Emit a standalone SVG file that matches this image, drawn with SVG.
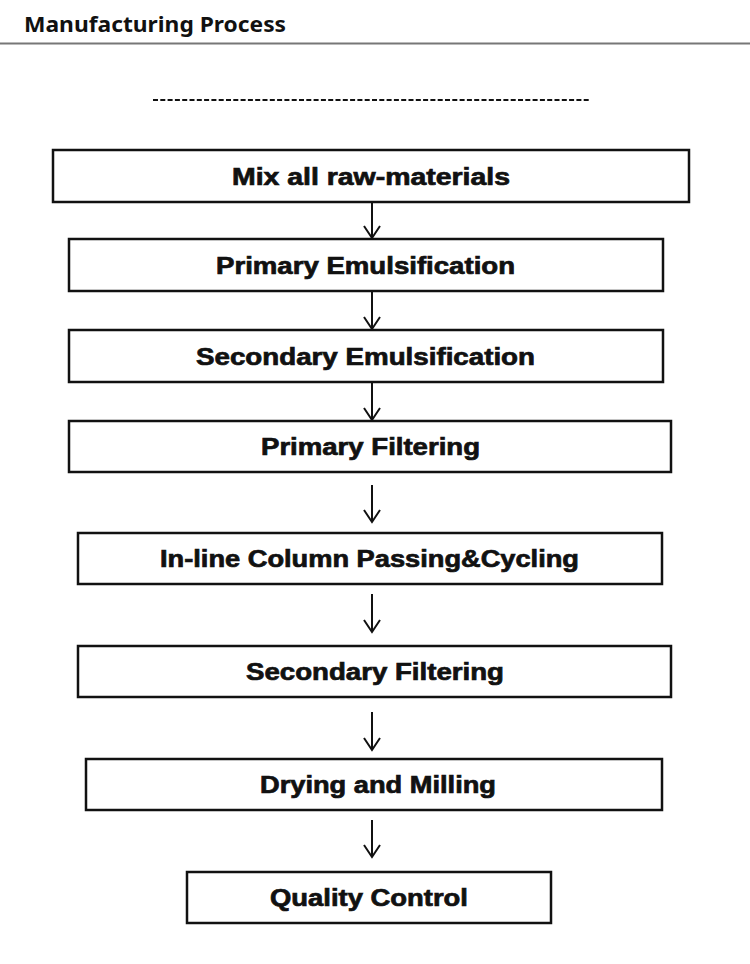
<svg xmlns="http://www.w3.org/2000/svg" width="750" height="964" viewBox="0 0 750 964">
  <style>
    .box { fill: #ffffff; stroke: #111111; stroke-width: 2.5; }
    .lbl { font-family: "Liberation Sans", Arial, sans-serif; font-weight: bold; font-size: 23px; fill: #111111; stroke: #111111; stroke-width: 0.7; text-anchor: middle; }
    .conn { stroke: #111111; stroke-width: 2; fill: none; marker-end: url(#arr); }
    .title { font-family: "Noto Sans", "Open Sans", sans-serif; font-weight: 700; font-size: 22px; fill: #111111; }
  </style>
  <defs>
    <marker id="arr" markerUnits="userSpaceOnUse" markerWidth="20" markerHeight="20" refX="0" refY="0" viewBox="-14 -10 16 20" orient="auto">
      <path d="M -12,-8 L 0,0 L -12,8" fill="none" stroke="#111111" stroke-width="2"/>
    </marker>
  </defs>
  <rect x="0" y="0" width="750" height="964" fill="#ffffff"/>
  <g id="header">
    <text class="title" x="24" y="32" textLength="262" lengthAdjust="spacingAndGlyphs">Manufacturing Process</text>
    <line x1="0" y1="43.5" x2="750" y2="43.5" stroke="#777777" stroke-width="2"/>
    <line x1="153" y1="100" x2="591" y2="100" stroke="#111111" stroke-width="2" stroke-dasharray="5 2.3"/>
  </g>
  <g id="connectors">
    <path class="conn" d="M372,202 L372,238"/>
    <path class="conn" d="M372,291 L372,329"/>
    <path class="conn" d="M372,382 L372,420"/>
    <path class="conn" d="M372,485 L372,522"/>
    <path class="conn" d="M372,594 L372,632"/>
    <path class="conn" d="M372,712 L372,750"/>
    <path class="conn" d="M372,820 L372,857"/>
  </g>
  <g id="n1">
    <rect class="box" x="53" y="150" width="636" height="52"/>
    <text class="lbl" x="371" y="184.5" textLength="278" lengthAdjust="spacingAndGlyphs">Mix all raw-materials</text>
  </g>
  <g id="n2">
    <rect class="box" x="69" y="239" width="594" height="52"/>
    <text class="lbl" x="365.5" y="273.5" textLength="299" lengthAdjust="spacingAndGlyphs">Primary Emulsification</text>
  </g>
  <g id="n3">
    <rect class="box" x="69" y="330" width="594" height="52"/>
    <text class="lbl" x="365.5" y="364.5" textLength="339" lengthAdjust="spacingAndGlyphs">Secondary Emulsification</text>
  </g>
  <g id="n4">
    <rect class="box" x="69" y="421" width="602" height="51"/>
    <text class="lbl" x="370.5" y="455" textLength="219" lengthAdjust="spacingAndGlyphs">Primary Filtering</text>
  </g>
  <g id="n5">
    <rect class="box" x="78" y="533" width="584" height="51"/>
    <text class="lbl" x="369.5" y="567" textLength="419" lengthAdjust="spacingAndGlyphs">In-line Column Passing&amp;Cycling</text>
  </g>
  <g id="n6">
    <rect class="box" x="78" y="646" width="593" height="51"/>
    <text class="lbl" x="375" y="680" textLength="258" lengthAdjust="spacingAndGlyphs">Secondary Filtering</text>
  </g>
  <g id="n7">
    <rect class="box" x="86" y="759" width="576" height="51"/>
    <text class="lbl" x="378" y="793" textLength="236" lengthAdjust="spacingAndGlyphs">Drying and Milling</text>
  </g>
  <g id="n8">
    <rect class="box" x="187" y="872" width="364" height="51"/>
    <text class="lbl" x="369" y="906" textLength="198" lengthAdjust="spacingAndGlyphs">Quality Control</text>
  </g>
</svg>
